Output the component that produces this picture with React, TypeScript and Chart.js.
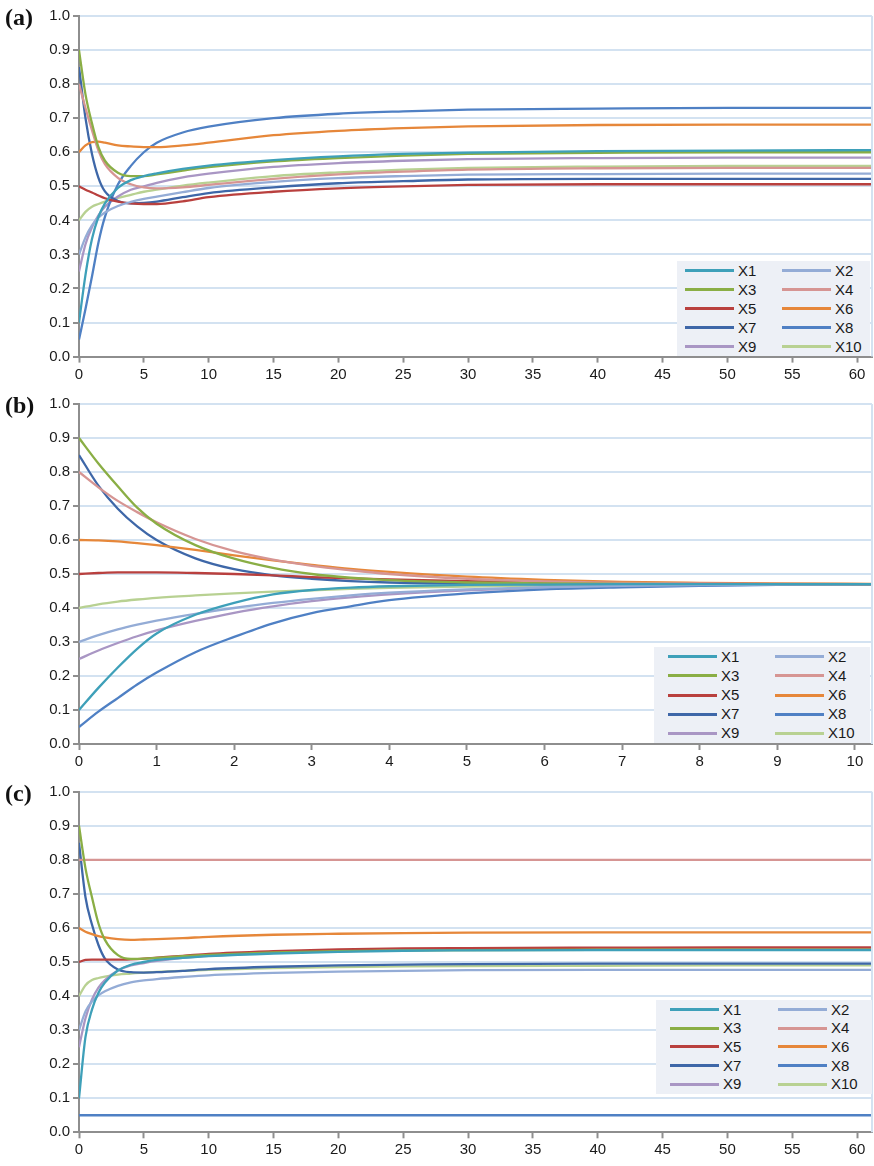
import React, { useEffect, useRef } from 'react';
import { Chart, registerables } from 'chart.js';

Chart.register(...registerables);

// ---------- data ----------
const seriesNames = ['X1', 'X2', 'X3', 'X4', 'X5', 'X6', 'X7', 'X8', 'X9', 'X10'];
const seriesColors = ['#3ea0b9', '#94acd6', '#8aae45', '#d69593', '#b9403e', '#e6873a', '#3e67a8', '#4f80c4', '#a996c4', '#b8d192'];
const yTicks = [0, 0.1, 0.2, 0.3, 0.4, 0.5, 0.6, 0.7, 0.8, 0.9, 1.0];

// panel (a)
const xA = [0, 0.5, 1, 1.5, 2, 3, 4, 5, 6, 8, 10, 15, 20, 25, 30, 40, 50, 61.15];
const a1 = [0.10, 0.24, 0.345, 0.41, 0.45, 0.495, 0.518, 0.53, 0.538, 0.551, 0.561, 0.577, 0.588, 0.595, 0.599, 0.603, 0.605, 0.606];
const a2 = [0.30, 0.35, 0.385, 0.408, 0.423, 0.442, 0.454, 0.463, 0.47, 0.483, 0.495, 0.513, 0.524, 0.53, 0.534, 0.536, 0.537, 0.537];
const a3 = [0.90, 0.77, 0.685, 0.615, 0.575, 0.54, 0.53, 0.53, 0.535, 0.546, 0.556, 0.573, 0.583, 0.59, 0.595, 0.598, 0.60, 0.60];
const a4 = [0.80, 0.73, 0.665, 0.605, 0.565, 0.525, 0.506, 0.497, 0.494, 0.497, 0.504, 0.522, 0.535, 0.543, 0.549, 0.553, 0.554, 0.554];
const a5 = [0.50, 0.49, 0.482, 0.473, 0.465, 0.455, 0.45, 0.448, 0.448, 0.456, 0.468, 0.484, 0.494, 0.5, 0.504, 0.506, 0.506, 0.506];
const a6 = [0.60, 0.62, 0.63, 0.631, 0.628, 0.62, 0.617, 0.615, 0.615, 0.62, 0.628, 0.65, 0.663, 0.671, 0.676, 0.68, 0.681, 0.681];
const a7 = [0.85, 0.70, 0.595, 0.525, 0.485, 0.457, 0.45, 0.451, 0.455, 0.468, 0.48, 0.497, 0.509, 0.515, 0.52, 0.522, 0.522, 0.522];
const a8 = [0.05, 0.14, 0.235, 0.335, 0.41, 0.505, 0.56, 0.60, 0.628, 0.658, 0.675, 0.70, 0.713, 0.72, 0.725, 0.728, 0.73, 0.73];
const a9 = [0.25, 0.33, 0.38, 0.415, 0.44, 0.47, 0.49, 0.50, 0.51, 0.526, 0.537, 0.557, 0.568, 0.575, 0.58, 0.583, 0.584, 0.584];
const a10 = [0.40, 0.425, 0.44, 0.448, 0.455, 0.466, 0.475, 0.484, 0.49, 0.502, 0.511, 0.53, 0.541, 0.549, 0.554, 0.558, 0.56, 0.56];

// panel (b)
const xB = [0, 0.25, 0.5, 0.75, 1, 1.5, 2, 2.5, 3, 3.5, 4, 5, 6, 7, 8, 9, 10.22];
const b1 = [0.10, 0.165, 0.225, 0.28, 0.325, 0.38, 0.415, 0.44, 0.453, 0.46, 0.464, 0.468, 0.469, 0.47, 0.47, 0.47, 0.47];
const b2 = [0.30, 0.32, 0.337, 0.351, 0.363, 0.383, 0.40, 0.415, 0.427, 0.437, 0.445, 0.455, 0.461, 0.465, 0.467, 0.469, 0.47];
const b3 = [0.90, 0.825, 0.758, 0.695, 0.648, 0.585, 0.545, 0.518, 0.50, 0.489, 0.482, 0.475, 0.472, 0.471, 0.47, 0.47, 0.47];
const b4 = [0.80, 0.755, 0.715, 0.682, 0.652, 0.603, 0.567, 0.542, 0.524, 0.511, 0.50, 0.486, 0.478, 0.474, 0.472, 0.471, 0.47];
const b5 = [0.50, 0.503, 0.505, 0.505, 0.505, 0.503, 0.50, 0.496, 0.491, 0.487, 0.484, 0.479, 0.475, 0.473, 0.471, 0.47, 0.47];
const b6 = [0.60, 0.599, 0.596, 0.591, 0.585, 0.571, 0.555, 0.54, 0.527, 0.515, 0.506, 0.492, 0.483, 0.477, 0.474, 0.472, 0.471];
const b7 = [0.85, 0.76, 0.692, 0.64, 0.60, 0.546, 0.514, 0.496, 0.486, 0.479, 0.475, 0.472, 0.47, 0.47, 0.47, 0.47, 0.47];
const b8 = [0.05, 0.095, 0.135, 0.175, 0.21, 0.27, 0.315, 0.355, 0.385, 0.405, 0.423, 0.443, 0.455, 0.461, 0.465, 0.468, 0.469];
const b9 = [0.25, 0.275, 0.297, 0.317, 0.334, 0.362, 0.386, 0.405, 0.42, 0.431, 0.44, 0.452, 0.46, 0.464, 0.467, 0.469, 0.47];
const b10 = [0.40, 0.411, 0.419, 0.425, 0.43, 0.437, 0.443, 0.448, 0.452, 0.456, 0.459, 0.463, 0.466, 0.468, 0.469, 0.47, 0.47];

// panel (c)
const xC = [0, 0.5, 1, 1.5, 2, 3, 4, 5, 6, 8, 10, 15, 20, 25, 30, 40, 50, 61.15];
const c1 = [0.10, 0.28, 0.36, 0.41, 0.44, 0.475, 0.492, 0.50, 0.506, 0.512, 0.517, 0.525, 0.53, 0.533, 0.534, 0.535, 0.535, 0.535];
const c2 = [0.30, 0.355, 0.384, 0.402, 0.414, 0.43, 0.44, 0.446, 0.45, 0.456, 0.461, 0.468, 0.472, 0.474, 0.476, 0.477, 0.477, 0.477];
const c3 = [0.90, 0.775, 0.69, 0.613, 0.565, 0.52, 0.509, 0.51, 0.512, 0.517, 0.521, 0.528, 0.532, 0.534, 0.535, 0.536, 0.536, 0.536];
const c4 = [0.80, 0.80, 0.80, 0.80, 0.80, 0.80, 0.80, 0.80, 0.80, 0.80, 0.80, 0.80, 0.80, 0.80, 0.80, 0.80, 0.80, 0.80];
const c5 = [0.50, 0.506, 0.507, 0.507, 0.507, 0.507, 0.508, 0.51, 0.513, 0.518, 0.524, 0.532, 0.537, 0.54, 0.541, 0.542, 0.543, 0.543];
const c6 = [0.60, 0.589, 0.582, 0.576, 0.572, 0.567, 0.565, 0.566, 0.567, 0.57, 0.574, 0.58, 0.583, 0.585, 0.586, 0.587, 0.587, 0.587];
const c7 = [0.85, 0.69, 0.61, 0.55, 0.51, 0.478, 0.47, 0.469, 0.47, 0.474, 0.479, 0.486, 0.49, 0.492, 0.494, 0.495, 0.495, 0.495];
const c8 = [0.05, 0.05, 0.05, 0.05, 0.05, 0.05, 0.05, 0.05, 0.05, 0.05, 0.05, 0.05, 0.05, 0.05, 0.05, 0.05, 0.05, 0.05];
const c9 = [0.25, 0.335, 0.39, 0.425, 0.447, 0.475, 0.49, 0.497, 0.503, 0.512, 0.518, 0.527, 0.532, 0.535, 0.537, 0.538, 0.538, 0.538];
const c10 = [0.40, 0.432, 0.447, 0.453, 0.457, 0.463, 0.466, 0.469, 0.471, 0.474, 0.477, 0.482, 0.485, 0.487, 0.488, 0.489, 0.49, 0.49];

// ---------- styling ----------
const FONT = "'Liberation Sans', Arial, sans-serif";
const AXIS_GRAY = '#8e8e8e';
const GRID_BLUE = '#d3e2f1';

const rightBorder = {
  id: 'rightBorder',
  afterDraw(chart: any) {
    const { ctx, chartArea } = chart;
    ctx.save();
    ctx.strokeStyle = GRID_BLUE;
    ctx.lineWidth = 2;
    ctx.beginPath();
    ctx.moveTo(chartArea.right, chartArea.top);
    ctx.lineTo(chartArea.right, chartArea.bottom);
    ctx.stroke();
    ctx.restore();
  },
};

type PanelProps = {
  label: string;
  xs: number[];
  ys: number[][];
  xMax: number;
  xStep: number;
  top: number;
  height: number;
  plotTop: number;
  plotBottom: number;
  legend: { left: number; top: number; width: number; height: number; row0: number; rowGap: number; c1: number; c2: number };
};

function Panel(p: PanelProps) {
  const ref = useRef<HTMLCanvasElement | null>(null);
  useEffect(() => {
    if (!ref.current) return;
    const xAxisH = p.top + p.height - p.plotBottom;
    const chart = new Chart(ref.current, {
      type: 'line',
      data: {
        datasets: seriesNames.map((n, i) => ({
          label: n,
          data: p.xs.map((x, j) => ({ x, y: p.ys[i][j] })),
          borderColor: seriesColors[i],
          backgroundColor: seriesColors[i],
          borderWidth: 2.3,
          pointRadius: 0,
          cubicInterpolationMode: 'monotone',
          fill: false,
        })),
      },
      options: {
        animation: false,
        responsive: false,
        maintainAspectRatio: false,
        layout: { padding: { left: 0, right: 2, top: p.plotTop - p.top, bottom: 0 } },
        plugins: { legend: { display: false }, tooltip: { enabled: false } },
        scales: {
          x: {
            type: 'linear',
            min: 0,
            max: p.xMax,
            ticks: {
              stepSize: p.xStep,
              includeBounds: false,
              autoSkip: false,
              maxRotation: 0,
              color: '#1a1a1a',
              padding: 3,
              font: { family: FONT, size: 15 },
            },
            grid: { drawOnChartArea: false, drawTicks: true, tickLength: 6, tickColor: AXIS_GRAY, tickWidth: 2 },
            border: { color: AXIS_GRAY, width: 2 },
            afterFit: (s: any) => { s.height = xAxisH; },
          },
          y: {
            type: 'linear',
            min: 0,
            max: 1,
            afterBuildTicks: (s: any) => { s.ticks = yTicks.map((v) => ({ value: v })); },
            ticks: {
              color: '#1a1a1a',
              padding: 3,
              font: { family: FONT, size: 15 },
              callback: (v: any) => Number(v).toFixed(1),
            },
            grid: { color: GRID_BLUE, lineWidth: 2, tickLength: 6, tickColor: AXIS_GRAY, tickWidth: 2 },
            border: { color: AXIS_GRAY, width: 2 },
            afterFit: (s: any) => { s.width = 79; },
          },
        },
      } as any,
      plugins: [rightBorder],
    } as any);
    return () => chart.destroy();
  }, []);

  const L = p.legend;
  return (
    <>
      <canvas
        ref={ref}
        width={874}
        height={p.height}
        style={{ position: 'absolute', left: 0, top: p.top, width: 874, height: p.height }}
      />
      <div
        style={{
          position: 'absolute', left: 5, top: p.plotTop - 12, fontFamily: "'Liberation Serif', 'Times New Roman', serif",
          fontWeight: 'bold', fontSize: 24, lineHeight: '26px', color: '#111',
        }}
      >
        {p.label}
      </div>
      <div
        style={{
          position: 'absolute', left: L.left, top: L.top, width: L.width, height: L.height, background: '#edf0f6',
        }}
      >
        {seriesNames.map((n, i) => {
          const row = Math.floor(i / 2);
          const col = i % 2;
          const cy = L.row0 + row * L.rowGap;
          const lx = (col === 0 ? L.c1 : L.c2) - L.left;
          return (
            <React.Fragment key={n}>
              <div style={{ position: 'absolute', left: lx, top: cy - 1.5, width: 49, height: 3, background: seriesColors[i] }} />
              <div
                style={{
                  position: 'absolute', left: lx + 53, top: cy - 9, height: 18, lineHeight: '18px',
                  fontFamily: FONT, fontSize: 15, color: '#1a1a1a', whiteSpace: 'nowrap',
                }}
              >
                {n}
              </div>
            </React.Fragment>
          );
        })}
      </div>
    </>
  );
}

export default function App() {
  return (
    <div style={{ position: 'absolute', left: 0, top: 0, width: 874, height: 1166, background: '#fff', overflow: 'hidden' }}>
      <Panel
        label="(a)"
        xs={xA}
        ys={[a1, a2, a3, a4, a5, a6, a7, a8, a9, a10]}
        xMax={61.15}
        xStep={5}
        top={0}
        height={385}
        plotTop={16}
        plotBottom={356.6}
        legend={{ left: 677, top: 261, width: 193, height: 95, row0: 9.7, rowGap: 19, c1: 685, c2: 782 }}
      />
      <Panel
        label="(b)"
        xs={xB}
        ys={[b1, b2, b3, b4, b5, b6, b7, b8, b9, b10]}
        xMax={10.22}
        xStep={1}
        top={385}
        height={385}
        plotTop={404}
        plotBottom={744}
        legend={{ left: 654, top: 647, width: 216, height: 96, row0: 9.7, rowGap: 19.15, c1: 668, c2: 775 }}
      />
      <Panel
        label="(c)"
        xs={xC}
        ys={[c1, c2, c3, c4, c5, c6, c7, c8, c9, c10]}
        xMax={61.15}
        xStep={5}
        top={770}
        height={396}
        plotTop={791.7}
        plotBottom={1132.3}
        legend={{ left: 656, top: 1000, width: 216, height: 94, row0: 9.5, rowGap: 18.7, c1: 670, c2: 778 }}
      />
    </div>
  );
}
